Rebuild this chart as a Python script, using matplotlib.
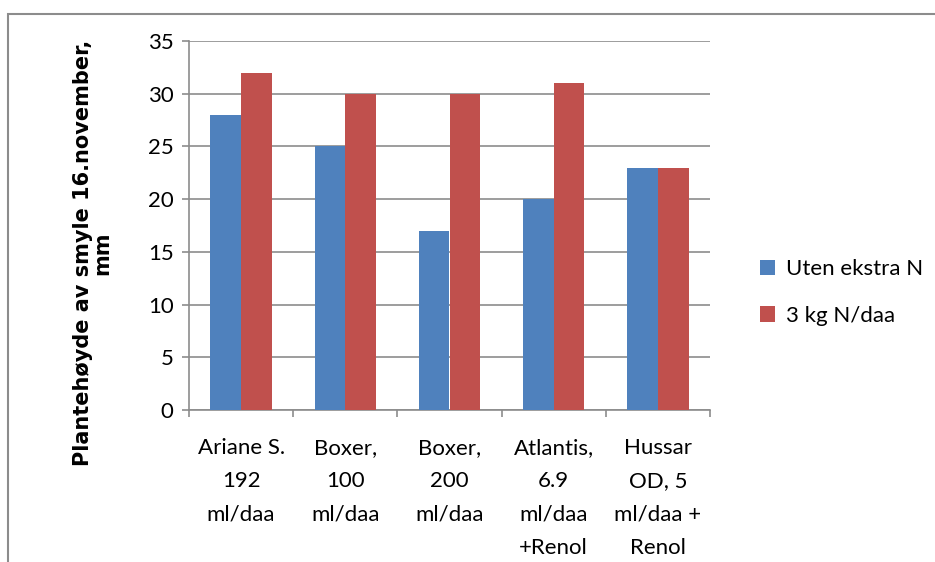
import matplotlib.pyplot as plt
import numpy as np
from matplotlib.patches import Rectangle

categories = [
    "Ariane S.\n192\nml/daa",
    "Boxer,\n100\nml/daa",
    "Boxer,\n200\nml/daa",
    "Atlantis,\n6.9\nml/daa\n+Renol",
    "Hussar\nOD, 5\nml/daa +\nRenol",
]
uten_ekstra = [28, 25, 17, 20, 23]
med_n = [32, 30, 30, 31, 23]
series_names = ["Uten ekstra N", "3 kg N/daa"]
yticks = [0, 5, 10, 15, 20, 25, 30, 35]

_BLUE = "#4f81bd"
_RED = "#c0504d"
_GRID = "#8c8c8c"
W, H = 935, 562

plt.rcParams["font.family"] = ["Lato", "DejaVu Sans"]

fig = plt.figure(figsize=(W / 100, H / 100), dpi=100)
ax = fig.add_axes([189 / W, 1 - 410 / H, (710 - 189) / W, (410 - 41) / H])

# ramme rundt diagramområdet (bare venstre og topp synlig)
fig.patches.append(
    Rectangle((8 / W, -0.1), 1.2, 1.1 - 14 / H, transform=fig.transFigure,
              fill=False, edgecolor=_GRID, lw=1.5)
)

x = np.arange(len(categories))
w = 0.295
ax.bar(x - w / 2, uten_ekstra, w, color=_BLUE, label=series_names[0], zorder=3)
ax.bar(x + w / 2, med_n, w, color=_RED, label=series_names[1], zorder=3)

ax.set_xlim(-0.5, len(categories) - 0.5)
ax.set_ylim(0, 35)
ax.set_yticks(yticks)
ax.yaxis.grid(True, color=_GRID, lw=1.2, zorder=0)
ax.set_axisbelow(True)

# kategorigrenser som store ticks, etiketter på små ticks
ax.set_xticks(np.arange(len(categories) + 1) - 0.5)
ax.set_xticklabels([])
ax.set_xticks(x, minor=True)
ax.set_xticklabels(categories, minor=True, fontsize=16, linespacing=1.84, va="top")
ax.tick_params(axis="x", which="major", length=5, color=_GRID, width=1.2)
ax.tick_params(axis="x", which="minor", length=0, pad=20)
ax.tick_params(axis="y", length=5, color=_GRID, width=1.2, labelsize=16, pad=6)

for s in ["top", "right"]:
    ax.spines[s].set_visible(False)
for s in ["left", "bottom"]:
    ax.spines[s].set_color(_GRID)
    ax.spines[s].set_linewidth(1.2)

fig.text(93 / W, 1 - 253 / H, "Plantehøyde av smyle 16.november,\nmm",
         rotation=90, ha="center", va="center", multialignment="center",
         fontsize=15, fontweight="bold", family="DejaVu Sans", linespacing=0.95)

fig.legend(loc="upper left", bbox_to_anchor=(740 / W, 1 - 239 / H), frameon=False,
           fontsize=16, handlelength=0.68, handleheight=0.68, handletextpad=0.5,
           labelspacing=1.2)

fig.savefig("out.png", dpi=100)
